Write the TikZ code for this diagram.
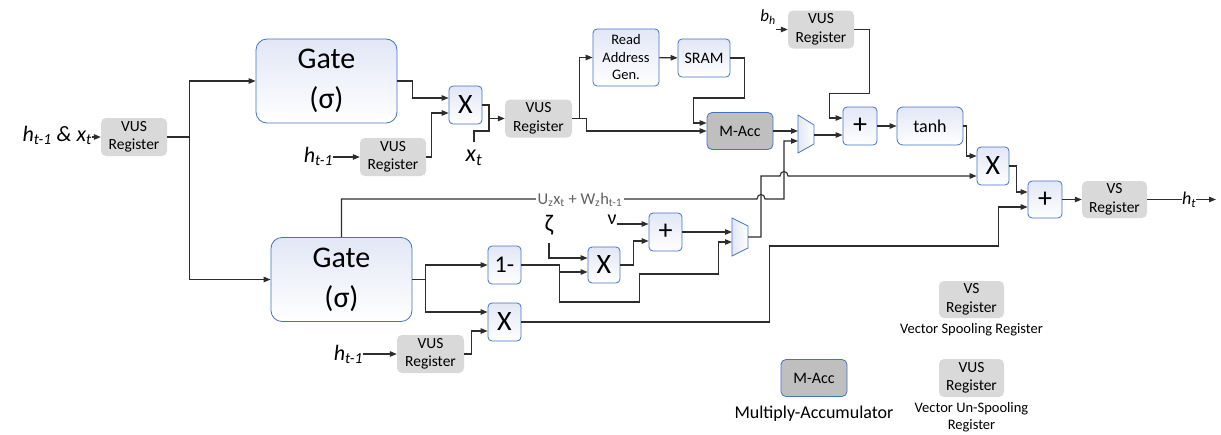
\documentclass[tikz,border=0pt]{standalone}
\usepackage{fontspec}
\setmainfont{Carlito}
\usepackage{tikz}
\usetikzlibrary{positioning,arrows.meta,calc}

\definecolor{boxblue}{RGB}{68,114,196}
\definecolor{blkfill}{RGB}{226,231,246}
\definecolor{reggray}{RGB}{217,217,217}
\definecolor{accgray}{RGB}{191,191,191}
\definecolor{wirec}{RGB}{45,45,45}

\begin{document}
\begin{tikzpicture}[
  x=1pt, y=-1pt,
  >={Triangle[length=7pt,width=5.5pt]},
  blk/.style ={rectangle, rounded corners=4pt, draw=boxblue, line width=0.8pt, top color=blkfill, bottom color=white, align=center, inner sep=0pt},
  gate/.style={blk, rounded corners=11pt, minimum width=141pt, minimum height=84pt, font=\fontsize{30}{40}\selectfont},
  op/.style  ={blk, minimum width=33pt, minimum height=38pt, font=\fontsize{28}{30}\selectfont},
  reg/.style ={rectangle, rounded corners=5pt, fill=reggray, align=center, minimum width=66pt, minimum height=38pt, inner sep=0pt, font=\fontsize{15.5}{18.5}\selectfont},
  acc/.style ={rectangle, rounded corners=5pt, draw=boxblue, line width=0.8pt, fill=accgray, minimum width=66pt, minimum height=37pt, font=\fontsize{16}{19}\selectfont},
  sig/.style ={inner sep=0pt, font=\fontsize{22}{24}\selectfont\itshape},
  gr/.style  ={inner sep=0pt, font=\fontsize{24}{26}\selectfont},
  note/.style={align=center, inner sep=0pt, font=\fontsize{14.5}{17}\selectfont},
  mux/.style ={draw=boxblue, line width=0.8pt, left color=blkfill, right color=white},
  flow/.style={->, draw=wirec, line width=1.1pt},
  wire/.style={draw=wirec, line width=1.1pt},
]
\useasboundingbox (0,0) rectangle (1221,434);
% input stage
\node[sig, anchor=east] (hx) at (92,135) {h\textsubscript{t-1} \& x\textsubscript{t}};
\node[reg] (reg1) at (134,137) {VUS\\Register};
\node[gate] (gate1) at (326.5,81) {Gate\\(σ)};
\node[gate] (gate2) at (341.5,279.5) {Gate\\(σ)};
% upper branch
\node[sig, anchor=east] (ht1) at (333,156) {h\textsubscript{t-1}};
\node[reg] (reg2) at (393,157) {VUS\\Register};
\node[op] (x1) at (465.5,105) {X};
\node[sig, font=\fontsize{24}{26}\selectfont\itshape] (xt) at (474,158) {x\textsubscript{t}};
\node[reg, minimum width=67pt] (reg3) at (538.5,118.5) {VUS\\Register};
\node[blk, minimum width=66pt, minimum height=57pt, font=\fontsize{14.5}{17.5}\selectfont] (rag) at (626,57.5) {Read\\Address\\Gen.};
\node[blk, minimum width=52pt, minimum height=38pt, font=\fontsize{16}{19}\selectfont] (sram) at (704,58) {SRAM};
\node[acc] (macc) at (740,131) {M-Acc};
\node[sig, font=\fontsize{17}{19}\selectfont\itshape] (bh) at (768,17) {b\textsubscript{h}};
\node[reg] (breg) at (821,29.5) {VUS\\Register};
\node[op, minimum width=34pt] (plus1) at (860,126) {+};
\node[blk, minimum width=66pt, minimum height=38pt, rounded corners=6pt, font=\fontsize{18}{20}\selectfont] (tanh) at (930,126) {tanh};
\node[op, minimum width=32pt] (x3) at (993,166) {X};
\node[op, minimum width=34pt, minimum height=37pt] (plus3) at (1045,199.5) {+};
\node[reg, minimum width=65pt, minimum height=37pt] (vsreg) at (1114.5,199.5) {VS\\Register};
\node[sig, font=\fontsize{18}{20}\selectfont\itshape] (ht) at (1189,200) {h\textsubscript{t}};
\coordinate (hout) at (1216,199.5);
% lower branch
\node[op, font=\fontsize{24}{26}\selectfont] (onem) at (504.5,265) {1-};
\node[op] (x4) at (504.5,322) {X};
\node[sig, anchor=east] (ht3) at (363,354) {h\textsubscript{t-1}};
\node[reg, minimum width=67pt] (reg4) at (430.5,354) {VUS\\Register};
\node[gr] (zeta) at (549,225) {ζ};
\node[gr, font=\fontsize{20}{22}\selectfont] (nu) at (612,220) {ν};
\node[op, minimum width=32pt, minimum height=36pt] (x2) at (604,265) {X};
\node[op] (plus2) at (665.5,232) {+};
% muxes
\draw[mux] (798,115) -- (814,125) -- (814,144) -- (798,153) -- cycle;
\coordinate (m1a) at (798,131);
\coordinate (m1b) at (798,141);
\coordinate (m1o) at (814,135);
\draw[mux] (732,218) -- (748,226) -- (748,248) -- (732,256) -- cycle;
\coordinate (m2a) at (732,232);
\coordinate (m2b) at (732,242);
\coordinate (m2o) at (748,237);
% wires, upper part
\draw[flow] (hx.east |- reg1.west) -- (reg1.west);
\draw[flow] (reg1.east) -- ++(22,0) |- (gate1.west);
\draw[flow] (reg1.east) -- ++(22,0) |- (gate2.west);
\draw[flow] (gate1.east) -- ++(15,0) |- ([yshift=7pt]x1.west);
\draw[flow] (ht1.east |- reg2.west) -- (reg2.west);
\draw[flow] (reg2.east) -- ++(5,0) |- ([yshift=-8pt]x1.west);
\coordinate (jx) at (489,118.5);
\draw[flow] (x1.east) -| (jx) -- (reg3.west);
\draw[wire] ([yshift=8pt]xt.north) -- (xt.north |- 0,131) -| (jx);
\draw[flow] (reg3.east) -- ++(7,0) |- (rag.west);
\draw[flow] (reg3.east) -- ++(14,0) |- (macc.west);
\draw[flow] (rag) -- (sram);
\draw[flow] (sram.east) -- ++(14,0) -- ++(0,40) -- ++(-51,0) |- ([yshift=8pt]macc.west);
\draw[flow] (macc.east) -- (m1a);
\draw[flow] (m1o) -- ([yshift=-9pt]plus1.west);
\draw[flow] (bh.south east |- breg.west) -- (breg.west);
\draw[flow] (breg.east) -- ++(15,0) -- ++(0,64) -- ++(-40,0) |- ([yshift=8pt]plus1.west);
\draw[flow] (plus1) -- (tanh);
\draw[flow] (tanh.east) -- ++(3,0) |- ([yshift=10pt]x3.west);
\draw[flow] (x3.east) -- ++(7,0) |- ([yshift=7.5pt]plus3.west);
\draw[flow] (plus3) -- (vsreg);
\draw[wire] (vsreg.east) -- (ht.west |- vsreg.east);
\draw[flow] (ht.east |- vsreg.east) -- (hout);
% wires, lower part
\draw[flow] (gate2.north) |- (757,199) .. controls (757,193) and (765,193) .. (765,199) -- (784,199) |- (m1b);
\node[fill=white, inner xsep=1.5pt, inner ysep=0pt, text=black!62, font=\fontsize{16.5}{18}\selectfont] (zsum) at (580,200) {U\textsubscript{z}x\textsubscript{t} + W\textsubscript{z}h\textsubscript{t-1}};
\draw[flow] (gate2.east) -- ++(13,0) |- (onem.west);
\draw[flow] (gate2.east) -- ++(13,0) |- ([yshift=10pt]x4.west);
\draw[flow] (ht3.east |- reg4.west) -- (reg4.west);
\draw[flow] (reg4.east) -- ++(7,0) |- ([yshift=-9pt]x4.west);
\draw[flow] (onem.east) -- ++(38,0) |- ([yshift=-7pt]x2.west);
\draw[flow] (onem.east) -- ++(38,0) -- ++(0,37) -- ++(80,0) -- ++(0,-28) -- ++(79,0) |- (m2b);
\draw[flow] ([yshift=-8pt]zeta.south) |- ([yshift=7pt]x2.west);
\draw[flow] (x2.east) -- ++(13,0) |- ([yshift=-9pt]plus2.west);
\draw[flow] ([yshift=8pt]plus2.west -| nu.east) -- ([yshift=8pt]plus2.west);
\draw[flow] (plus2) -- (m2a);
\draw[flow] (m2o) -- ++(13,0) |- (780,176) .. controls (780,170) and (788,170) .. (788,176) -- ([yshift=-10pt]x3.west);
\draw[flow] (x4.east) -- ++(248,0) -- ++(0,-76) -- ++(229,0) |- ([yshift=-7.5pt]plus3.west);
% legend
\node[reg, minimum width=65pt, minimum height=37pt] (vsleg) at (971.5,299.5) {VS\\Register};
\node[note, below=5pt of vsleg] (vscap) {Vector Spooling Register};
\node[acc] (accleg) at (814,378) {M-Acc};
\node[note, font=\fontsize{18}{20}\selectfont, below=9pt of accleg] (acccap) {Multiply-Accumulator};
\node[reg, minimum width=65pt] (vusleg) at (971.5,378) {VUS\\Register};
\node[note, below=5pt of vusleg] (vuscap) {Vector Un-Spooling\\Register};
\end{tikzpicture}
\end{document}
